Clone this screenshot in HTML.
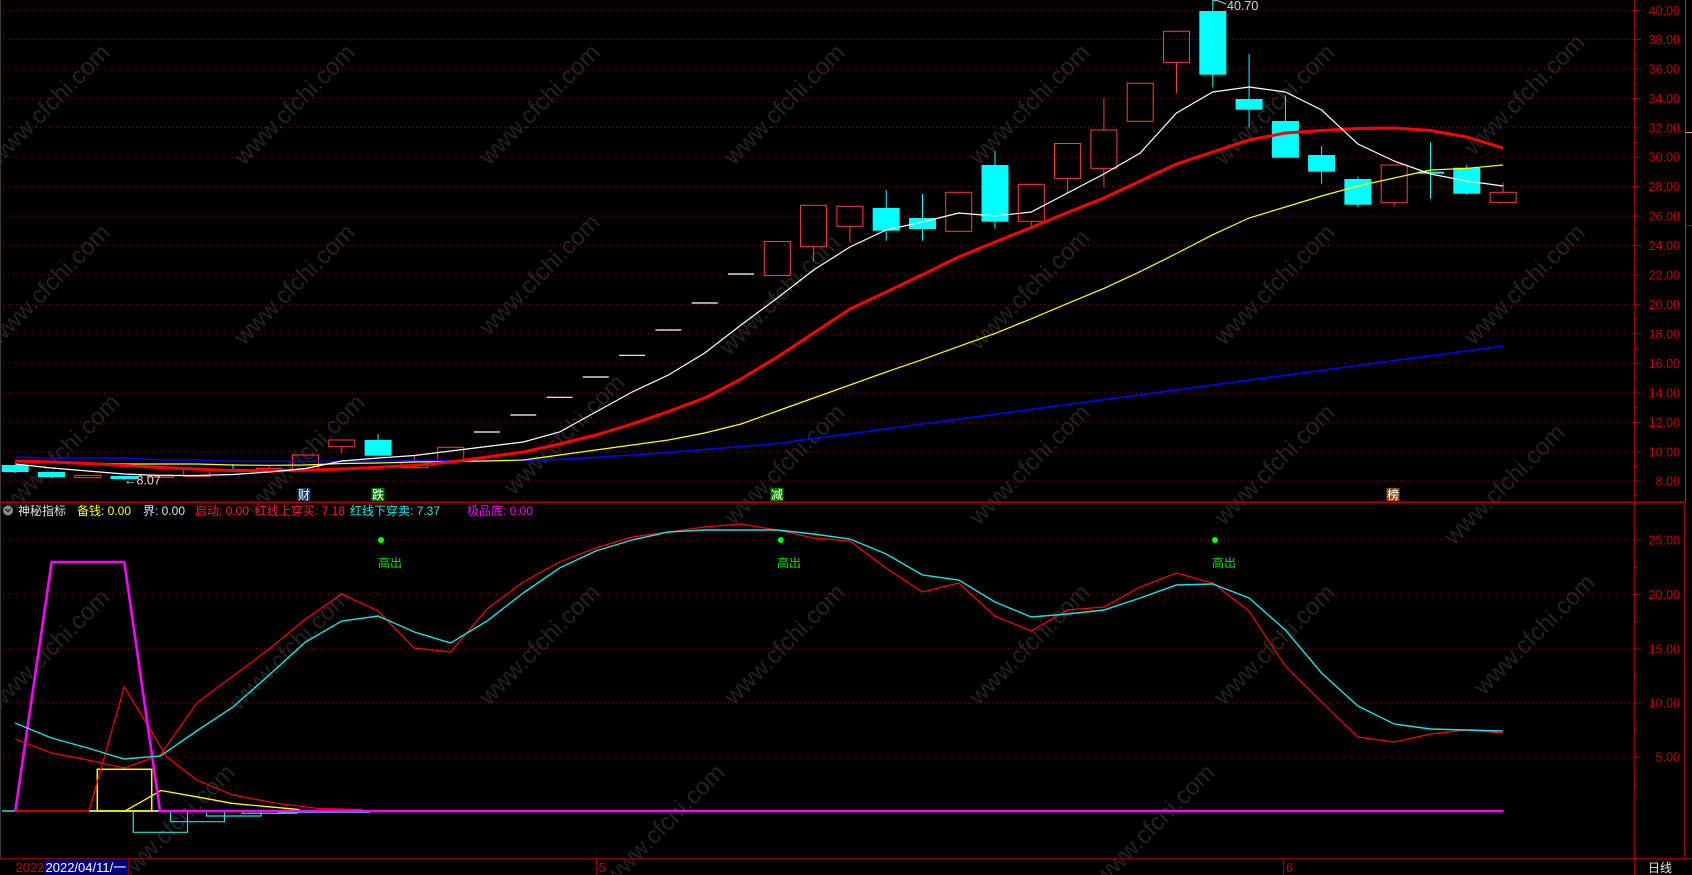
<!DOCTYPE html>
<html><head><meta charset="utf-8"><style>
html,body{margin:0;padding:0;background:#000;}
svg{display:block;}
text{font-family:"Liberation Sans","Noto Sans CJK SC",sans-serif;}
</style></head><body>
<svg width="1692" height="875" viewBox="0 0 1692 875" xmlns="http://www.w3.org/2000/svg">
<rect x="0" y="0" width="1692" height="875" fill="#000"/>

<!-- watermarks -->
<g font-size="24" fill="#232323" text-anchor="middle">
<text x="55" y="110" transform="rotate(-45 55 110)">www.cfchi.com</text>
<text x="300" y="110" transform="rotate(-45 300 110)">www.cfchi.com</text>
<text x="545" y="110" transform="rotate(-45 545 110)">www.cfchi.com</text>
<text x="790" y="110" transform="rotate(-45 790 110)">www.cfchi.com</text>
<text x="1035" y="110" transform="rotate(-45 1035 110)">www.cfchi.com</text>
<text x="1280" y="110" transform="rotate(-45 1280 110)">www.cfchi.com</text>
<text x="1530" y="100" transform="rotate(-45 1530 100)">www.cfchi.com</text>
<text x="55" y="290" transform="rotate(-45 55 290)">www.cfchi.com</text>
<text x="300" y="290" transform="rotate(-45 300 290)">www.cfchi.com</text>
<text x="545" y="280" transform="rotate(-45 545 280)">www.cfchi.com</text>
<text x="785" y="300" transform="rotate(-45 785 300)">www.cfchi.com</text>
<text x="1035" y="295" transform="rotate(-45 1035 295)">www.cfchi.com</text>
<text x="1280" y="290" transform="rotate(-45 1280 290)">www.cfchi.com</text>
<text x="1530" y="290" transform="rotate(-45 1530 290)">www.cfchi.com</text>
<text x="65" y="460" transform="rotate(-45 65 460)">www.cfchi.com</text>
<text x="310" y="460" transform="rotate(-45 310 460)">www.cfchi.com</text>
<text x="570" y="440" transform="rotate(-45 570 440)">www.cfchi.com</text>
<text x="790" y="470" transform="rotate(-45 790 470)">www.cfchi.com</text>
<text x="1035" y="470" transform="rotate(-45 1035 470)">www.cfchi.com</text>
<text x="1280" y="470" transform="rotate(-45 1280 470)">www.cfchi.com</text>
<text x="1510" y="490" transform="rotate(-45 1510 490)">www.cfchi.com</text>
<text x="55" y="655" transform="rotate(-45 55 655)">www.cfchi.com</text>
<text x="295" y="655" transform="rotate(-45 295 655)">www.cfchi.com</text>
<text x="545" y="650" transform="rotate(-45 545 650)">www.cfchi.com</text>
<text x="790" y="650" transform="rotate(-45 790 650)">www.cfchi.com</text>
<text x="1035" y="650" transform="rotate(-45 1035 650)">www.cfchi.com</text>
<text x="1280" y="650" transform="rotate(-45 1280 650)">www.cfchi.com</text>
<text x="1540" y="640" transform="rotate(-45 1540 640)">www.cfchi.com</text>
<text x="180" y="830" transform="rotate(-45 180 830)">www.cfchi.com</text>
<text x="670" y="830" transform="rotate(-45 670 830)">www.cfchi.com</text>
<text x="1160" y="830" transform="rotate(-45 1160 830)">www.cfchi.com</text>
</g>

<!-- main grid -->
<g stroke="#9a0000" stroke-width="1" stroke-dasharray="1 3">
<line x1="0" y1="10.5" x2="1634" y2="10.5"/>
<line x1="0" y1="39.5" x2="1634" y2="39.5"/>
<line x1="0" y1="69" x2="1634" y2="69"/>
<line x1="0" y1="98.5" x2="1634" y2="98.5"/>
<line x1="0" y1="127.8" x2="1634" y2="127.8"/>
<line x1="0" y1="157.2" x2="1634" y2="157.2"/>
<line x1="0" y1="186.6" x2="1634" y2="186.6"/>
<line x1="0" y1="216.1" x2="1634" y2="216.1"/>
<line x1="0" y1="245.5" x2="1634" y2="245.5"/>
<line x1="0" y1="275" x2="1634" y2="275"/>
<line x1="0" y1="304.4" x2="1634" y2="304.4"/>
<line x1="0" y1="333.8" x2="1634" y2="333.8"/>
<line x1="0" y1="363.3" x2="1634" y2="363.3"/>
<line x1="0" y1="393" x2="1634" y2="393"/>
<line x1="0" y1="422.5" x2="1634" y2="422.5"/>
<line x1="0" y1="452" x2="1634" y2="452"/>
<line x1="0" y1="481" x2="1634" y2="481"/>
<!-- indicator grid -->
<line x1="0" y1="540" x2="1634" y2="540"/>
<line x1="0" y1="594.3" x2="1634" y2="594.3"/>
<line x1="0" y1="648.8" x2="1634" y2="648.8"/>
<line x1="0" y1="703" x2="1634" y2="703"/>
<line x1="0" y1="757.2" x2="1634" y2="757.2"/>
</g>

<!-- axis frames -->
<line x1="0.5" y1="0" x2="0.5" y2="858" stroke="#3a3a3a"/>
<line x1="1634.5" y1="0" x2="1634.5" y2="875" stroke="#a00000"/>
<line x1="0" y1="502.3" x2="1685" y2="502.3" stroke="#b00000" stroke-width="1.6"/>
<rect x="1634.5" y="502.5" width="50" height="356" fill="none" stroke="#a00000" stroke-width="1.2"/>
<line x1="1685.5" y1="0" x2="1685.5" y2="502" stroke="#5a5a5a"/>
<line x1="1686" y1="132.5" x2="1692" y2="132.5" stroke="#ff9a00"/>
<line x1="1686" y1="225.5" x2="1692" y2="225.5" stroke="#a00000"/>
<line x1="0" y1="858.5" x2="1692" y2="858.5" stroke="#900000"/>

<!-- ticks main -->
<g stroke="#a00000">
<line x1="1634" y1="10.5" x2="1641" y2="10.5"/><line x1="1634" y1="25" x2="1638" y2="25"/>
<line x1="1634" y1="39.5" x2="1641" y2="39.5"/><line x1="1634" y1="54" x2="1638" y2="54"/>
<line x1="1634" y1="69" x2="1641" y2="69"/><line x1="1634" y1="84" x2="1638" y2="84"/>
<line x1="1634" y1="98.5" x2="1641" y2="98.5"/><line x1="1634" y1="113" x2="1638" y2="113"/>
<line x1="1634" y1="127.8" x2="1641" y2="127.8"/><line x1="1634" y1="142.5" x2="1638" y2="142.5"/>
<line x1="1634" y1="157.2" x2="1641" y2="157.2"/><line x1="1634" y1="172" x2="1638" y2="172"/>
<line x1="1634" y1="186.6" x2="1641" y2="186.6"/><line x1="1634" y1="201.3" x2="1638" y2="201.3"/>
<line x1="1634" y1="216.1" x2="1641" y2="216.1"/><line x1="1634" y1="230.8" x2="1638" y2="230.8"/>
<line x1="1634" y1="245.5" x2="1641" y2="245.5"/><line x1="1634" y1="260.3" x2="1638" y2="260.3"/>
<line x1="1634" y1="275" x2="1641" y2="275"/><line x1="1634" y1="289.7" x2="1638" y2="289.7"/>
<line x1="1634" y1="304.4" x2="1641" y2="304.4"/><line x1="1634" y1="319" x2="1638" y2="319"/>
<line x1="1634" y1="333.8" x2="1641" y2="333.8"/><line x1="1634" y1="348.5" x2="1638" y2="348.5"/>
<line x1="1634" y1="363.3" x2="1641" y2="363.3"/><line x1="1634" y1="378" x2="1638" y2="378"/>
<line x1="1634" y1="393" x2="1641" y2="393"/><line x1="1634" y1="407.5" x2="1638" y2="407.5"/>
<line x1="1634" y1="422.5" x2="1641" y2="422.5"/><line x1="1634" y1="437" x2="1638" y2="437"/>
<line x1="1634" y1="452" x2="1641" y2="452"/><line x1="1634" y1="466.5" x2="1638" y2="466.5"/>
<line x1="1634" y1="481" x2="1641" y2="481"/><line x1="1634" y1="495.5" x2="1638" y2="495.5"/>
<line x1="1634" y1="540" x2="1641" y2="540"/><line x1="1634" y1="567.5" x2="1638" y2="567.5"/>
<line x1="1634" y1="594.3" x2="1641" y2="594.3"/><line x1="1634" y1="621.5" x2="1638" y2="621.5"/>
<line x1="1634" y1="648.8" x2="1641" y2="648.8"/><line x1="1634" y1="676" x2="1638" y2="676"/>
<line x1="1634" y1="703" x2="1641" y2="703"/><line x1="1634" y1="730" x2="1638" y2="730"/>
<line x1="1634" y1="757.2" x2="1641" y2="757.2"/><line x1="1634" y1="784" x2="1638" y2="784"/>
</g>

<!-- axis labels -->
<g font-size="12.5" fill="#c40000" text-anchor="end">
<text x="1680" y="15">40.00</text>
<text x="1680" y="44">38.00</text>
<text x="1680" y="73.5">36.00</text>
<text x="1680" y="103">34.00</text>
<text x="1680" y="132.3">32.00</text>
<text x="1680" y="161.7">30.00</text>
<text x="1680" y="191">28.00</text>
<text x="1680" y="220.6">26.00</text>
<text x="1680" y="250">24.00</text>
<text x="1680" y="279.5">22.00</text>
<text x="1680" y="309">20.00</text>
<text x="1680" y="338.3">18.00</text>
<text x="1680" y="367.8">16.00</text>
<text x="1680" y="397.5">14.00</text>
<text x="1680" y="427">12.00</text>
<text x="1680" y="456.5">10.00</text>
<text x="1680" y="485.5">8.00</text>
<text x="1680" y="544.5">25.00</text>
<text x="1680" y="598.8">20.00</text>
<text x="1680" y="653.3">15.00</text>
<text x="1680" y="707.5">10.00</text>
<text x="1680" y="761.7">5.00</text>
</g>

<!-- candles: red hollow -->
<g fill="none" stroke="#ff3c3c" stroke-width="1">
<rect x="74.8" y="475.3" width="26" height="2.4"/>
<rect x="147.4" y="475" width="26" height="2.3"/>
<rect x="183.7" y="469" width="26" height="7.7"/>
<rect x="256.2" y="468.3" width="26" height="3.4"/><line x1="269.2" y1="466" x2="269.2" y2="468.3"/>
<rect x="292.5" y="455" width="26" height="15"/>
<rect x="328.8" y="440" width="26" height="6.7"/><line x1="341.8" y1="446.7" x2="341.8" y2="453.3"/>
<rect x="401.4" y="461" width="26" height="6.7"/><line x1="414.4" y1="455.7" x2="414.4" y2="461"/>
<rect x="437.7" y="447.3" width="26" height="13.4"/>
<rect x="764.3" y="241.5" width="26" height="34"/>
<rect x="800.6" y="205.3" width="26" height="41.4"/><line x1="813.6" y1="246.7" x2="813.6" y2="261.7"/>
<rect x="836.9" y="206.3" width="26" height="20"/><line x1="849.9" y1="226.3" x2="849.9" y2="242.7"/>
<rect x="945.7" y="192.3" width="26" height="39"/>
<rect x="1018.3" y="184.3" width="26" height="37"/><line x1="1031.3" y1="221.3" x2="1031.3" y2="228.3"/>
<rect x="1054.6" y="143.5" width="26" height="34.8"/><line x1="1067.6" y1="178.3" x2="1067.6" y2="193.3"/>
<rect x="1090.9" y="130" width="26" height="38.3"/><line x1="1103.9" y1="98.3" x2="1103.9" y2="130"/><line x1="1103.9" y1="168.3" x2="1103.9" y2="187.3"/>
<rect x="1127.2" y="83.3" width="26" height="38"/>
<rect x="1163.5" y="31.3" width="26" height="31"/><line x1="1176.5" y1="62.3" x2="1176.5" y2="93.3"/>
<rect x="1381.2" y="165" width="26" height="37.7"/><line x1="1394.2" y1="202.7" x2="1394.2" y2="206.7"/>
<rect x="1490.1" y="192.3" width="26" height="10"/><line x1="1503.1" y1="182.7" x2="1503.1" y2="192.3"/>
</g>
<!-- candles: cyan -->
<g fill="#00ffff" stroke="#00ffff" stroke-width="1">
<rect x="1.7" y="465" width="27" height="7" stroke="none"/><line x1="15.2" y1="472" x2="15.2" y2="473"/>
<rect x="38" y="472" width="27" height="5" stroke="none"/><line x1="51.5" y1="477" x2="51.5" y2="478"/>
<rect x="110.6" y="476" width="27" height="3" stroke="none"/><line x1="124.1" y1="479" x2="124.1" y2="480"/>
<rect x="219.5" y="469" width="27" height="1.5" stroke="none"/><line x1="233" y1="464" x2="233" y2="469"/>
<rect x="364.6" y="440" width="27" height="15.7" stroke="none"/><line x1="378.1" y1="434" x2="378.1" y2="440"/>
<rect x="872.7" y="208" width="27" height="22.7" stroke="none"/><line x1="886.2" y1="190" x2="886.2" y2="240.7"/>
<rect x="909" y="218" width="27" height="11" stroke="none"/><line x1="922.5" y1="194" x2="922.5" y2="240.7"/>
<rect x="981.5" y="165" width="27" height="56.7" stroke="none"/><line x1="995" y1="151" x2="995" y2="228.7"/>
<rect x="1199.3" y="11" width="27" height="63.7" stroke="none"/><line x1="1212.8" y1="0" x2="1212.8" y2="87.3"/>
<rect x="1235.6" y="99" width="27" height="10.7" stroke="none"/><line x1="1249.1" y1="54" x2="1249.1" y2="127.3"/>
<rect x="1271.9" y="121" width="27" height="36.7" stroke="none"/><line x1="1285.4" y1="95.3" x2="1285.4" y2="157.7"/>
<rect x="1308.1" y="155" width="27" height="16.7" stroke="none"/><line x1="1321.6" y1="146" x2="1321.6" y2="183.7"/>
<rect x="1344.4" y="179" width="27" height="25.7" stroke="none"/><line x1="1357.9" y1="176.7" x2="1357.9" y2="207.3"/>
<rect x="1417" y="171.7" width="27" height="2" stroke="none"/><line x1="1430.5" y1="142.3" x2="1430.5" y2="198.7"/>
<rect x="1453.3" y="167.7" width="27" height="26" stroke="none"/><line x1="1466.8" y1="165" x2="1466.8" y2="195"/>
</g>
<!-- one-price bars -->
<g stroke="#ffffff" stroke-width="1.2">
<line x1="474" y1="432" x2="500" y2="432"/>
<line x1="510.3" y1="415" x2="536.3" y2="415"/>
<line x1="546.6" y1="397.3" x2="572.6" y2="397.3"/>
<line x1="582.8" y1="377" x2="608.8" y2="377"/>
<line x1="619.1" y1="355.3" x2="645.1" y2="355.3"/>
<line x1="655.4" y1="330" x2="681.4" y2="330"/>
<line x1="691.7" y1="303" x2="717.7" y2="303"/>
<line x1="728" y1="274" x2="754" y2="274"/>
</g>

<!-- moving averages -->
<polyline fill="none" stroke="#0000ff" stroke-width="1.6" points="15.2,457 51.5,458 87.8,458 124.1,458 160.4,460 196.7,460 233,461.3 269.2,461.3 305.5,461.3 341.8,461.3 378.1,461.3 414.4,460.3 450.7,460.3 487,460.3 523.3,460.3 559.6,459.5 595.8,457.3 632.1,455 668.4,452.5 704.7,449.6 741,446.5 777.3,443.5 813.6,438.6 849.9,433.8 886.2,428.9 922.5,424 958.7,419.1 995,414.3 1031.3,409.4 1067.6,404.5 1103.9,399.6 1140.2,394.8 1176.5,389.9 1212.8,385 1249.1,380.1 1285.4,375.3 1321.6,370.4 1357.9,365.5 1394.2,360.6 1430.5,355.8 1466.8,350.9 1503.1,346"/>
<polyline fill="none" stroke="#ffff00" stroke-width="1.2" points="15.2,461.7 51.5,462.5 87.8,463 124.1,464 160.4,464 196.7,464 233,465 269.2,465.3 305.5,465 341.8,463.5 378.1,463 414.4,462 450.7,461.5 487,461 523.3,460 559.6,455 595.8,450 632.1,445 668.4,440 704.7,433 741,424 777.3,411 813.6,398 849.9,385 886.2,372 922.5,359.6 958.7,346.4 995,333.4 1031.3,318.8 1067.6,303.4 1103.9,288.4 1140.2,271.6 1176.5,253.5 1212.8,234.7 1249.1,218 1285.4,207 1321.6,196 1357.9,186 1394.2,178 1430.5,170 1466.8,168.3 1503.1,165"/>
<polyline fill="none" stroke="#ff0000" stroke-width="3" points="15.2,461 51.5,462 87.8,463.5 124.1,465.5 160.4,467.5 196.7,469 233,470.5 269.2,470.7 305.5,470.3 341.8,469 378.1,467.3 414.4,465.5 450.7,462 487,457 523.3,452 559.6,444 595.8,435 632.1,424 668.4,411.5 704.7,398 741,379 777.3,357 813.6,333 849.9,309 886.2,292 922.5,274.6 958.7,257 995,242 1031.3,227.5 1067.6,212.5 1103.9,198 1140.2,181 1176.5,164 1212.8,152 1249.1,140 1285.4,133 1321.6,130.5 1357.9,128.5 1394.2,128 1430.5,130.5 1466.8,137 1503.1,148"/>
<polyline fill="none" stroke="#ffffff" stroke-width="1.2" points="15.2,464 51.5,468 87.8,471 124.1,474 160.4,475.5 196.7,475.5 233,474.5 269.2,472 305.5,468.5 341.8,461 378.1,458 414.4,455.5 450.7,451 487,446.5 523.3,442 559.6,432 595.8,412 632.1,392 668.4,375 704.7,353 741,325 777.3,298 813.6,270 849.9,247 886.2,230 922.5,222 958.7,213 995,216 1031.3,212 1067.6,193 1103.9,174 1140.2,153 1176.5,113 1212.8,92 1249.1,87 1285.4,92 1321.6,110 1357.9,144 1394.2,161 1430.5,174 1466.8,181 1503.1,186"/>

<!-- price annotations -->
<polyline fill="none" stroke="#d0d0d0" stroke-width="1" points="1213,0.8 1218,0.8 1226,4"/>
<text x="1227" y="10" font-size="12.5" fill="#d8d8d8">40.70</text>
<text x="124" y="484.5" font-size="12.5" fill="#e0e0e0">←8.07</text>

<!-- signal labels -->
<rect x="297.5" y="488" width="13" height="13" fill="#123a6a"/>
<text x="298" y="499" font-size="12" fill="#ffffff">财</text>
<rect x="371.5" y="488" width="13" height="13" fill="#007800"/>
<text x="372" y="499" font-size="12" fill="#ffffff">跌</text>
<rect x="770.5" y="488" width="13" height="13" fill="#007800"/>
<text x="771" y="499" font-size="12" fill="#ffffff">减</text>
<rect x="1386.5" y="488" width="13" height="13" fill="#8b4a0a"/>
<text x="1387" y="499" font-size="12" fill="#ffffff">榜</text>

<!-- indicator title -->
<circle cx="8" cy="510.5" r="5" fill="#8a8a8a"/>
<polyline fill="none" stroke="#222" stroke-width="1.3" points="5.5,509 8,511.5 10.5,509"/>
<g font-size="12">
<text x="18" y="515" fill="#e6e6e6">神秘指标</text>
<text x="77" y="515" fill="#ffff00">备钱: 0.00</text>
<text x="143" y="515" fill="#d0e8ff">界: 0.00</text>
<text x="195" y="515" fill="#ff2020">启动: 0.00</text>
<text x="255" y="515" fill="#ff2020">红线上穿买: 7.18</text>
<text x="350" y="515" fill="#20e8e8">红线下穿卖: 7.37</text>
<text x="467" y="515" fill="#ff00ff">极品底: 0.00</text>
</g>

<!-- indicator: baseline segments -->
<line x1="2" y1="811" x2="15" y2="811" stroke="#20e0e0" stroke-width="1.5"/>
<line x1="15" y1="811" x2="89" y2="811" stroke="#ff0000" stroke-width="1.5"/>
<line x1="89" y1="811" x2="160" y2="811" stroke="#ffffff" stroke-width="1.5"/>
<!-- cyan stair boxes -->
<g fill="none" stroke="#20e0e0" stroke-width="1.2">
<polyline points="133.3,811 133.3,832.3 187.5,832.3 187.5,811"/>
<polyline points="170.5,811 170.5,821.7 224.5,821.7 224.5,811"/>
<polyline points="206.5,811 206.5,816 261,816 261,811"/>
<polyline points="242.5,811 242.5,813.3 297,813.3 297,811"/>
<polyline points="278.5,811 278.5,812.3 369.6,812.3 369.6,811"/>
</g>
<!-- yellow box and line -->
<rect x="97.3" y="769.3" width="54.4" height="41.7" fill="none" stroke="#ffff00" stroke-width="1.5"/>
<polyline fill="none" stroke="#ffff00" stroke-width="1.3" points="125,811 161,790.5 196,796.7 232,803.3 268,806.7 297,809.3 300,810"/>
<!-- red spike/decay -->
<polyline fill="none" stroke="#ff0000" stroke-width="1.2" points="89,811 124.3,686.7 166.7,756.7 196.7,780 233,795 277,803.3 317,808.3 362,809.5"/>
<!-- magenta -->
<polyline fill="none" stroke="#ff00ff" stroke-width="2.6" points="15.3,811 51.7,562 124.3,562 160,811 1503.5,811"/>

<!-- indicator main lines -->
<polyline fill="none" stroke="#ff0000" stroke-width="1.2" points="15.2,739 51.5,753 87.8,760 124.1,768 160.4,755 196.7,703 233,676 269.2,649 305.5,619 341.8,594 378.1,611 414.4,648 450.7,652 487,609 523.3,582 559.6,562 595.8,548 632.1,537 668.4,532 704.7,527 741,524 777.3,530 813.6,538 849.9,541 886.2,568 922.5,592 958.7,583 995,616 1031.3,631 1067.6,610 1103.9,607 1140.2,587 1176.5,573 1212.8,583 1249.1,611 1285.4,666 1321.6,702 1357.9,737 1394.2,742 1430.5,734 1466.8,730 1503.1,733"/>
<polyline fill="none" stroke="#20e0e0" stroke-width="1.4" points="15.2,723 51.5,738 87.8,748 124.1,759 160.4,756 196.7,731 233,707 269.2,675 305.5,642 341.8,621 378.1,616 414.4,632 450.7,643 487,621 523.3,593 559.6,568 595.8,551 632.1,540 668.4,532 704.7,530 741,530 777.3,530 813.6,534 849.9,539 886.2,554 922.5,575 958.7,580 995,602 1031.3,617 1067.6,614 1103.9,610 1140.2,598 1176.5,585 1212.8,584 1249.1,598 1285.4,630 1321.6,673 1357.9,706 1394.2,724 1430.5,729 1466.8,730 1503.1,731"/>

<!-- sell signals -->
<g fill="#00ff00">
<circle cx="381" cy="540" r="3"/>
<circle cx="780.7" cy="540" r="3"/>
<circle cx="1215" cy="540" r="3"/>
</g>
<g font-size="12" fill="#00e600">
<text x="378" y="567">高出</text>
<text x="777" y="567">高出</text>
<text x="1212" y="567">高出</text>
</g>

<!-- bottom bar -->
<text x="15.5" y="872" font-size="13" fill="#c00000">2022</text>
<rect x="44.5" y="859" width="84" height="16" fill="#000080"/>
<line x1="128.5" y1="859" x2="128.5" y2="875" stroke="#800000"/>
<text x="45.5" y="872" font-size="13" fill="#ffffff">2022/04/11/一</text>
<line x1="596.5" y1="859" x2="596.5" y2="875" stroke="#900000"/>
<text x="598.5" y="872" font-size="13" fill="#c00000">5</text>
<line x1="1283.5" y1="859" x2="1283.5" y2="875" stroke="#900000"/>
<text x="1286" y="872" font-size="13" fill="#c00000">6</text>
<text x="1648" y="872" font-size="12" fill="#e8e8e8">日线</text>
</svg>
</body></html>
